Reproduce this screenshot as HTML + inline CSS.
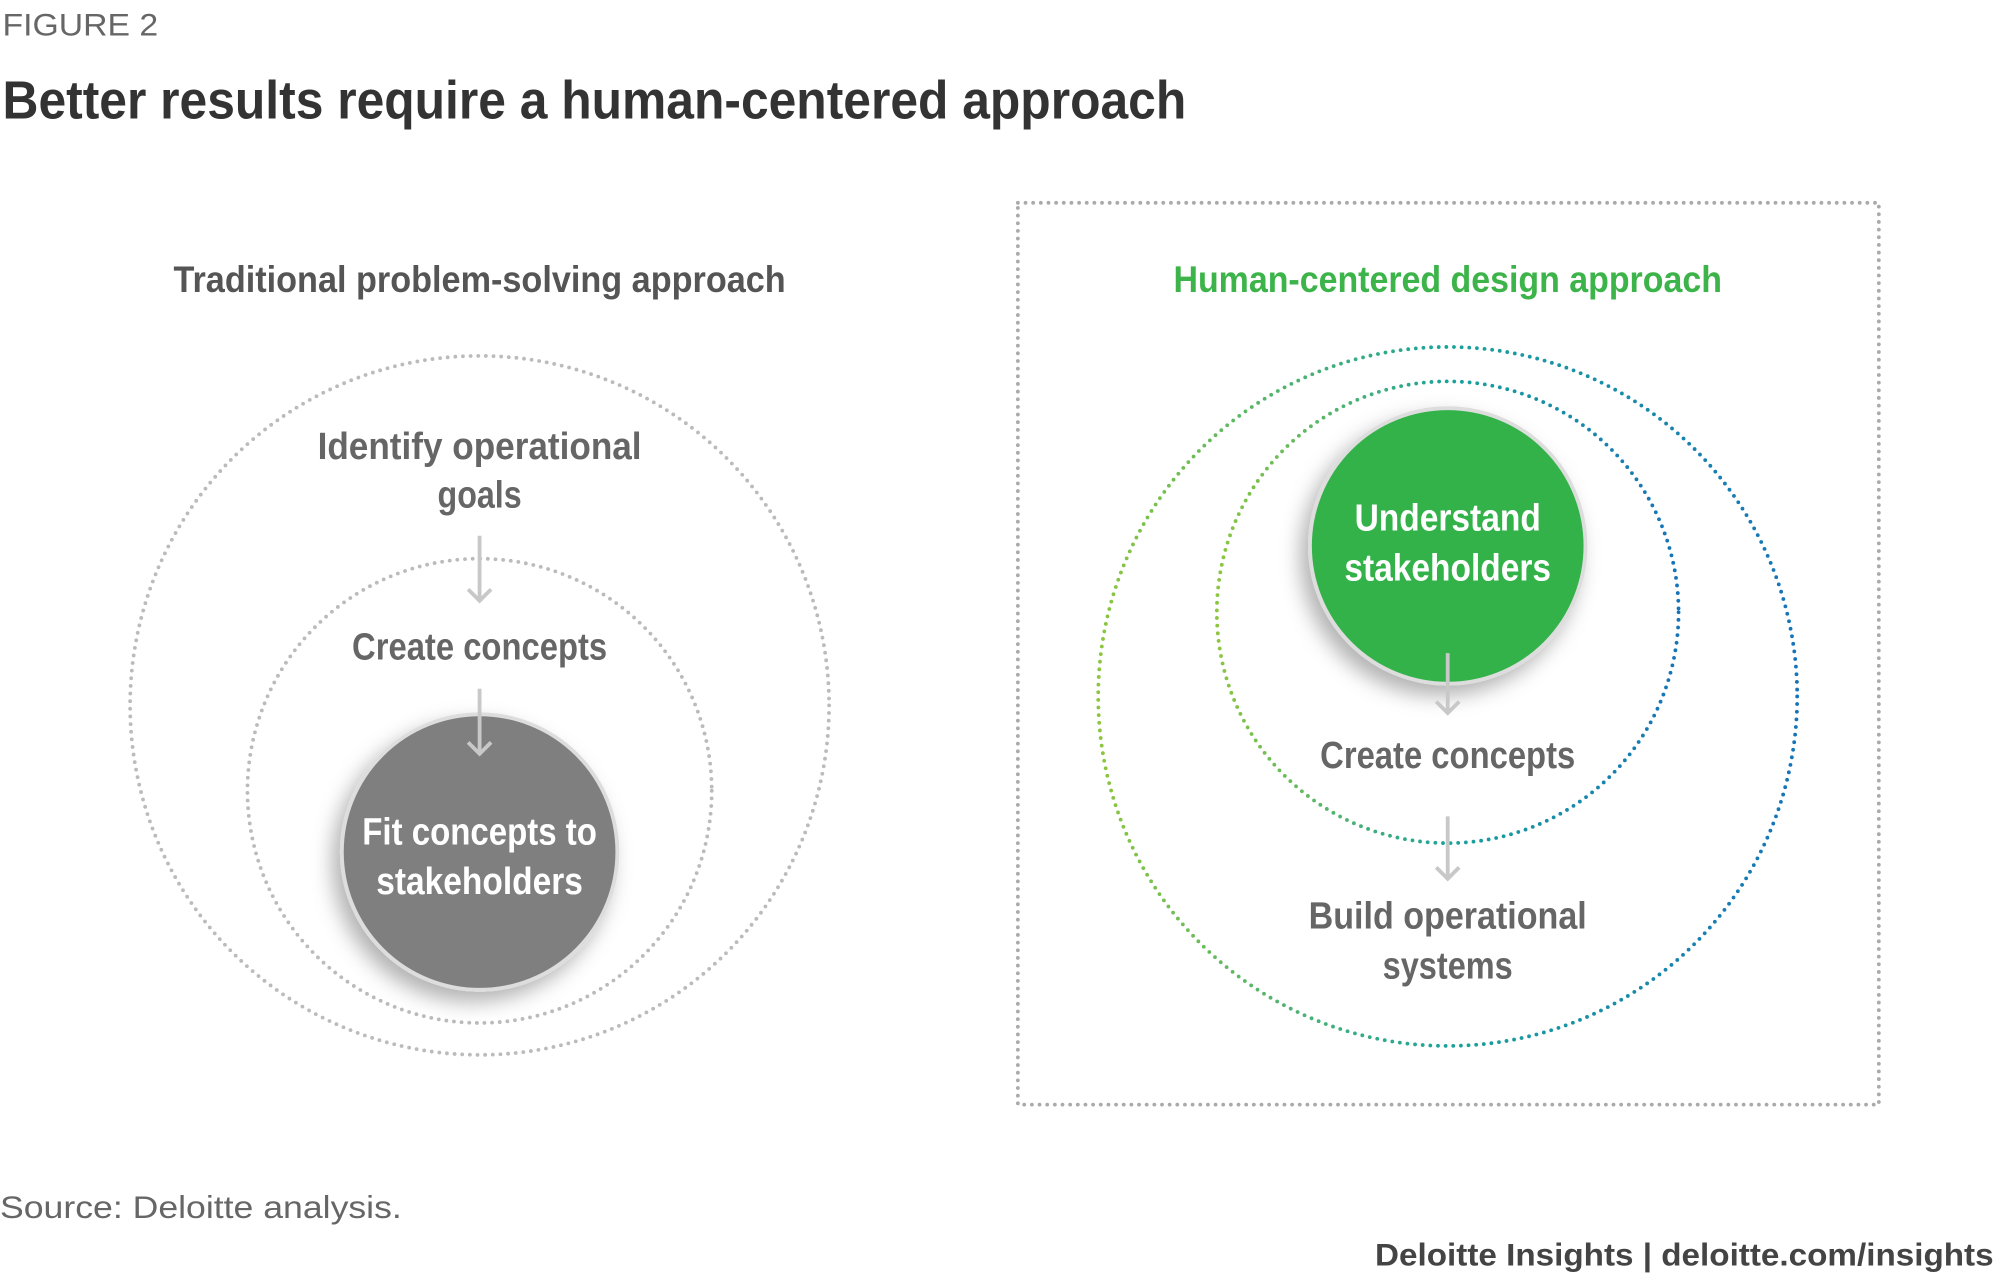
<!DOCTYPE html>
<html><head><meta charset="utf-8"><style>
html,body{margin:0;padding:0;background:#fff;}
svg{display:block;}
text{font-family:"Liberation Sans",sans-serif;}
.h{font-weight:bold;}
</style></head><body>
<svg width="2000" height="1280" viewBox="0 0 1568 1003.5" xmlns="http://www.w3.org/2000/svg">
<defs>
<linearGradient id="g1" x1="0" y1="0" x2="1" y2="0">
<stop offset="0" stop-color="#8cc63f"/><stop offset="0.5" stop-color="#1aa39a"/><stop offset="1" stop-color="#1673b8"/>
</linearGradient>
<filter id="sh" x="-30%" y="-30%" width="160%" height="160%">
<feDropShadow dx="-6" dy="8" stdDeviation="8" flood-color="#000" flood-opacity="0.3"/>
</filter>
</defs>
<text x="2" y="28" font-size="25" fill="#666" textLength="122" lengthAdjust="spacingAndGlyphs">FIGURE 2</text>
<text x="2" y="93" font-size="42" class="h" fill="#333" textLength="928" lengthAdjust="spacingAndGlyphs">Better results require a human-centered approach</text>

<text x="376" y="229" font-size="29" class="h" fill="#555" text-anchor="middle" textLength="480" lengthAdjust="spacingAndGlyphs">Traditional problem-solving approach</text>
<g fill="none" stroke="#bbb" stroke-width="3" stroke-linecap="round" stroke-dasharray="0 6">
<circle cx="376" cy="553" r="274"/>
<circle cx="376" cy="620" r="182"/>
</g>
<circle cx="376" cy="668" r="108" fill="#7f7f7f" stroke="#ddd" stroke-width="3" filter="url(#sh)"/>
<g font-size="30" class="h" fill="#666" text-anchor="middle">
<text x="376" y="360" textLength="254" lengthAdjust="spacingAndGlyphs">Identify operational</text>
<text x="376" y="398" textLength="66" lengthAdjust="spacingAndGlyphs">goals</text>
<text x="376" y="517" textLength="200" lengthAdjust="spacingAndGlyphs">Create concepts</text>
</g>
<g font-size="30" class="h" fill="#fff" text-anchor="middle">
<text x="376" y="662" textLength="184" lengthAdjust="spacingAndGlyphs">Fit concepts to</text>
<text x="376" y="701" textLength="162" lengthAdjust="spacingAndGlyphs">stakeholders</text>
</g>
<g stroke="#c8c8c8" stroke-width="3" fill="none">
<path d="M376 420V471M367 462L376 471L385 462"/>
<path d="M376 540V591M367 582L376 591L385 582"/>
</g>

<rect x="798" y="159" width="675" height="707" fill="none" stroke="#aaa" stroke-width="3" stroke-linecap="round" stroke-dasharray="0 6"/>
<text x="1135" y="229" font-size="29" class="h" fill="#3cb44a" text-anchor="middle" textLength="430" lengthAdjust="spacingAndGlyphs">Human-centered design approach</text>
<g fill="none" stroke="url(#g1)" stroke-width="3" stroke-linecap="round" stroke-dasharray="0 6">
<circle cx="1135" cy="546" r="274"/>
<circle cx="1135" cy="480" r="181"/>
</g>
<circle cx="1135" cy="428" r="108" fill="#33b24a" stroke="#ddd" stroke-width="3" filter="url(#sh)"/>
<g font-size="30" class="h" fill="#fff" text-anchor="middle">
<text x="1135" y="416" textLength="146" lengthAdjust="spacingAndGlyphs">Understand</text>
<text x="1135" y="455" textLength="162" lengthAdjust="spacingAndGlyphs">stakeholders</text>
</g>
<g font-size="30" class="h" fill="#666" text-anchor="middle">
<text x="1135" y="602" textLength="200" lengthAdjust="spacingAndGlyphs">Create concepts</text>
<text x="1135" y="728" textLength="218" lengthAdjust="spacingAndGlyphs">Build operational</text>
<text x="1135" y="767" textLength="102" lengthAdjust="spacingAndGlyphs">systems</text>
</g>
<g stroke="#c8c8c8" stroke-width="3" fill="none">
<path d="M1135 512V559M1126 550L1135 559L1144 550"/>
<path d="M1135 640V689M1126 680L1135 689L1144 680"/>
</g>

<text x="0" y="955" font-size="25" fill="#666" textLength="315" lengthAdjust="spacingAndGlyphs">Source: Deloitte analysis.</text>
<text x="1563" y="992" font-size="25" fill="#444" font-weight="bold" text-anchor="end" textLength="485" lengthAdjust="spacingAndGlyphs">Deloitte Insights | deloitte.com/insights</text>
</svg>
</body></html>
